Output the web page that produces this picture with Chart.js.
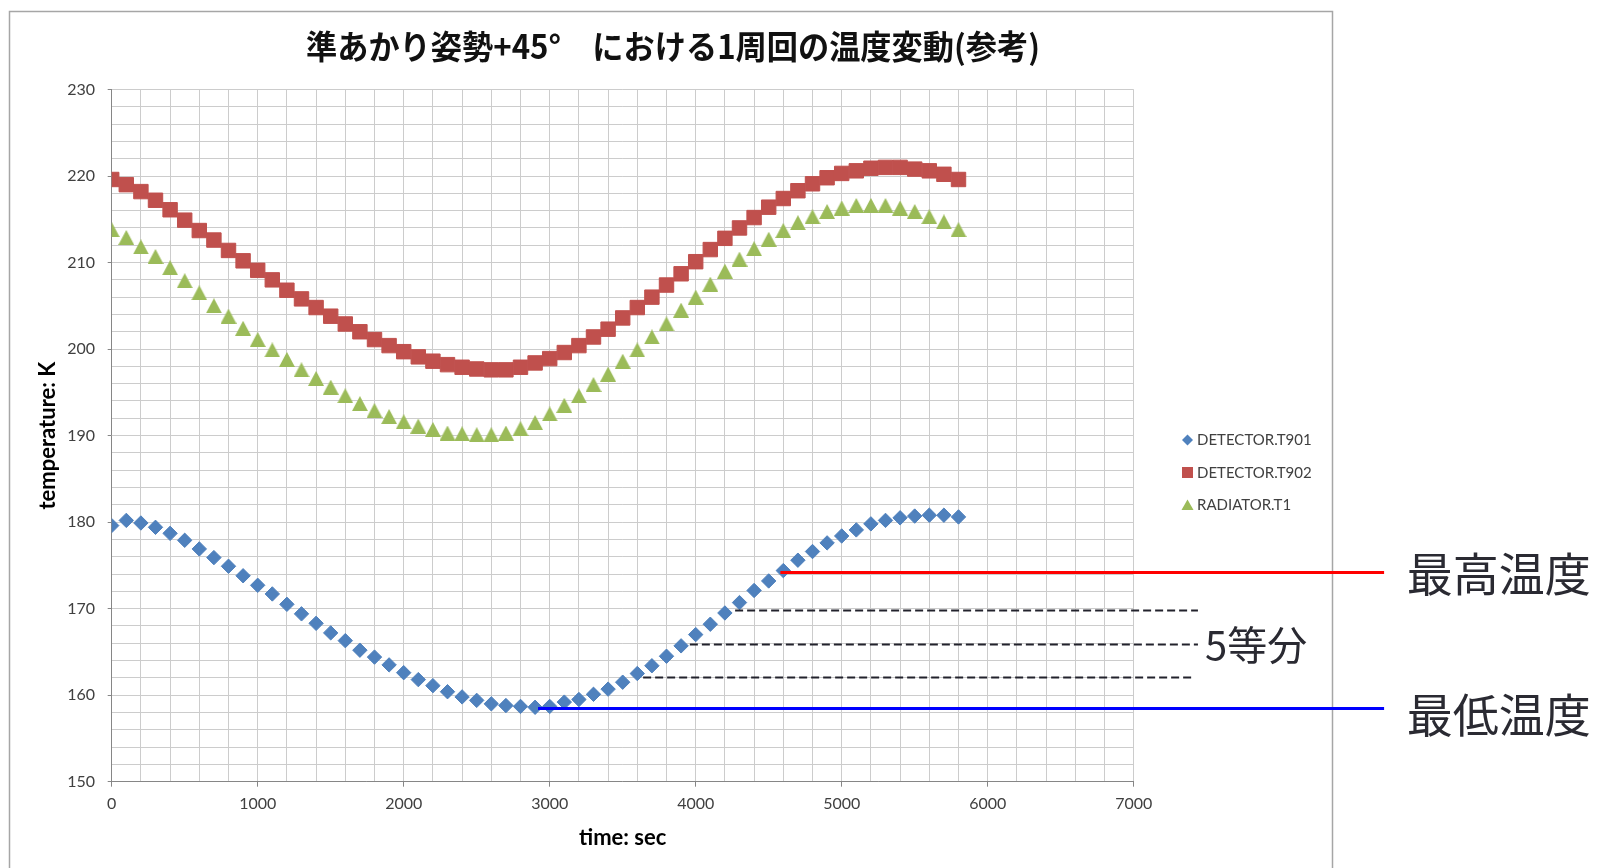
<!DOCTYPE html>
<html>
<head>
<meta charset="utf-8">
<script src="https://cdn.jsdelivr.net/npm/chart.js@4.4.1/dist/chart.umd.min.js"></script>
<style>
html,body{margin:0;padding:0;background:#ffffff;}
canvas{display:block;}
</style>
</head>
<body>
<canvas id="c" width="1598" height="868"></canvas>
<script>
// ---- data ----
const times = [0,100,200,300,400,500,600,700,800,900,1000,1100,1200,1300,1400,1500,1600,1700,1800,1900,
  2000,2100,2200,2300,2400,2500,2600,2700,2800,2900,3000,3100,3200,3300,3400,3500,3600,3700,3800,3900,
  4000,4100,4200,4300,4400,4500,4600,4700,4800,4900,5000,5100,5200,5300,5400,5500,5600,5700,5800];
const detectorT901 = [179.6,180.2,179.9,179.4,178.7,177.9,176.9,175.9,174.9,173.8,
  172.7,171.7,170.5,169.4,168.3,167.2,166.3,165.2,164.4,163.5,
  162.6,161.8,161.1,160.4,159.8,159.4,159.0,158.8,158.7,158.6,
  158.7,159.2,159.5,160.1,160.7,161.5,162.5,163.4,164.5,165.7,
  167.0,168.2,169.5,170.7,172.1,173.2,174.4,175.6,176.6,177.6,
  178.4,179.1,179.8,180.2,180.5,180.7,180.8,180.8,180.6];
const detectorT902 = [219.6,219.0,218.2,217.2,216.1,214.9,213.7,212.6,211.4,210.2,
  209.1,208.0,206.8,205.8,204.8,203.8,202.9,202.0,201.1,200.4,
  199.7,199.1,198.6,198.2,197.9,197.7,197.6,197.6,197.9,198.4,
  198.9,199.6,200.4,201.4,202.3,203.6,204.8,206.0,207.4,208.7,
  210.1,211.5,212.8,214.0,215.2,216.4,217.4,218.3,219.1,219.8,
  220.3,220.6,220.9,221.0,221.0,220.8,220.6,220.2,219.6];
const radiatorT1 = [213.8,212.9,211.8,210.7,209.4,207.9,206.5,205.0,203.8,202.4,
  201.1,199.9,198.8,197.6,196.6,195.6,194.6,193.7,192.9,192.2,
  191.6,191.1,190.7,190.3,190.2,190.1,190.1,190.3,190.8,191.5,
  192.5,193.5,194.6,195.9,197.1,198.6,199.9,201.4,202.9,204.5,
  206.0,207.5,209.0,210.4,211.6,212.7,213.7,214.6,215.3,215.9,
  216.3,216.6,216.6,216.6,216.3,215.9,215.3,214.7,213.8];
const seriesNames = ['DETECTOR.T901','DETECTOR.T902','RADIATOR.T1'];
const xTickLabels = [0,1000,2000,3000,4000,5000,6000,7000];
const yTickLabels = [150,160,170,180,190,200,210,220,230];
const chartTitle = '準あかり姿勢+45°　における1周回の温度変動(参考)';
const xAxisTitle = 'time: sec';
const yAxisTitle = 'temperature: K';
// guide lines (temperature K, from time, to time)
const guideTemps  = [174.2, 169.9, 165.9, 162.1, 158.5];
const guideStarts = [4580, 4270, 3960, 3640, 2920];
const guideEnds   = [8715, 7440, 7440, 7420, 8715];
const guideLabels = ['最高温度', '5等分', '最低温度'];

// ---- styles ----
const colors = ['#4F81BD', '#C0504D', '#9BBB59'];
function triangleImage(w, h, color) {
  const c = document.createElement('canvas');
  c.width = w; c.height = h;
  const g = c.getContext('2d');
  g.fillStyle = color;
  g.beginPath(); g.moveTo(w / 2, 0); g.lineTo(w, h); g.lineTo(0, h); g.closePath(); g.fill();
  return c;
}
const triImg = triangleImage(16, 15, colors[2]);

const toPoints = arr => times.map((t, i) => ({x: t, y: arr[i]}));

const decor = {
  id: 'decor',
  beforeDraw(chart) {
    const ctx = chart.ctx;
    ctx.save();
    ctx.fillStyle = '#ffffff';
    ctx.fillRect(0, 0, chart.width, chart.height);
    ctx.strokeStyle = '#a6a6a6';
    ctx.lineWidth = 1.5;
    ctx.beginPath();
    ctx.moveTo(9.5, 868); ctx.lineTo(9.5, 11.5); ctx.lineTo(1332.5, 11.5); ctx.lineTo(1332.5, 868);
    ctx.stroke();
    ctx.restore();
  },
  afterDraw(chart) {
    const ctx = chart.ctx;
    const xs = chart.scales.x, ys = chart.scales.y;
    // title
    ctx.save();
    ctx.font = 'bold 33px "Noto Sans CJK JP"';
    const tw = ctx.measureText(chartTitle).width;
    ctx.translate(673, 46.5);
    ctx.scale(734 / tw, 1);
    ctx.textAlign = 'center';
    ctx.textBaseline = 'middle';
    ctx.fillStyle = '#111111';
    ctx.fillText(chartTitle, 0, 0);
    ctx.restore();

    // legend
    ctx.save();
    ctx.font = '15px Lato';
    ctx.textBaseline = 'middle';
    ctx.textAlign = 'left';
    seriesNames.forEach((name, i) => {
      const y = 440 + i * 32.5, x = 1187.5;
      ctx.fillStyle = colors[i];
      ctx.beginPath();
      if (i === 0) { ctx.moveTo(x - 5.5, y); ctx.lineTo(x, y - 5.5); ctx.lineTo(x + 5.5, y); ctx.lineTo(x, y + 5.5); }
      else if (i === 1) { ctx.rect(x - 5.5, y - 5.5, 11, 11); }
      else { ctx.moveTo(x, y - 5.5); ctx.lineTo(x + 6, y + 5); ctx.lineTo(x - 6, y + 5); }
      ctx.closePath();
      ctx.fill();
      ctx.fillStyle = '#404040';
      ctx.fillText(name, 1197, y + 0.5);
    });
    ctx.restore();

    // guide lines
    ctx.save();
    guideTemps.forEach((t, i) => {
      const py = Math.round(ys.getPixelForValue(t)) + 0.5;
      ctx.beginPath();
      ctx.moveTo(xs.getPixelForValue(guideStarts[i]), py);
      ctx.lineTo(xs.getPixelForValue(guideEnds[i]), py);
      if (i === 0) { ctx.strokeStyle = '#ff0000'; ctx.lineWidth = 3; ctx.setLineDash([]); }
      else if (i === guideTemps.length - 1) { ctx.strokeStyle = '#0000ff'; ctx.lineWidth = 3; ctx.setLineDash([]); }
      else { ctx.strokeStyle = '#22222c'; ctx.lineWidth = 2.2; ctx.setLineDash([8, 4]); }
      ctx.stroke();
    });
    ctx.setLineDash([]);
    ctx.fillStyle = '#2a2a32';
    ctx.textAlign = 'left';
    ctx.textBaseline = 'middle';
    ctx.font = '46px "Noto Sans CJK JP"';
    ctx.fillText(guideLabels[0], xs.getPixelForValue(8870), ys.getPixelForValue(174.1));
    ctx.fillText(guideLabels[2], xs.getPixelForValue(8870), ys.getPixelForValue(157.8));
    ctx.font = '40px "Noto Sans CJK JP"';
    ctx.fillText(guideLabels[1], xs.getPixelForValue(7488), ys.getPixelForValue(165.8));
    ctx.restore();
  }
};

const tickFont = {family: 'Lato', size: 16};
const titleFont = {family: 'Lato', size: 22, weight: 'bold'};

new Chart(document.getElementById('c'), {
  type: 'scatter',
  data: {
    datasets: [
      {label: seriesNames[0], data: toPoints(detectorT901), pointStyle: 'rectRot', pointRadius: 7.2,
       backgroundColor: colors[0], borderColor: colors[0], borderWidth: 1, showLine: false},
      {label: seriesNames[1], data: toPoints(detectorT902), pointStyle: 'rect', pointRadius: 10.2,
       backgroundColor: colors[1], borderColor: colors[1], borderWidth: 1, showLine: false},
      {label: seriesNames[2], data: toPoints(radiatorT1), pointStyle: triImg, pointRadius: 8,
       backgroundColor: colors[2], borderColor: colors[2], borderWidth: 0, showLine: false}
    ]
  },
  options: {
    responsive: false,
    animation: false,
    events: [],
    devicePixelRatio: 1,
    layout: {padding: {left: 0, right: 464.3, top: 89.5, bottom: 0}},
    plugins: {legend: {display: false}, title: {display: false}, tooltip: {enabled: false}},
    scales: {
      x: {
        type: 'linear', min: 0, max: 7000,
        ticks: {stepSize: 200, autoSkip: false, maxRotation: 0, font: tickFont, color: '#404040', padding: 8,
          callback: v => xTickLabels.includes(v) ? String(v) : ''},
        grid: {color: '#cccccc', lineWidth: 1, tickLength: 5,
          tickColor: c => (c.tick && c.tick.value % 1000 === 0) ? '#868686' : 'rgba(0,0,0,0)'},
        border: {color: '#868686', width: 1},
        title: {display: true, text: xAxisTitle, font: titleFont, color: '#000000', padding: {top: 0, bottom: 17}},
        afterFit: s => { s.height = 86.3; }
      },
      y: {
        type: 'linear', min: 150, max: 230,
        ticks: {stepSize: 2, autoSkip: false, font: tickFont, color: '#404040', padding: 12.7,
          callback: v => yTickLabels.includes(v) ? String(v) : ''},
        grid: {color: '#cccccc', lineWidth: 1, tickLength: 4,
          tickColor: c => (c.tick && c.tick.value % 10 === 0) ? '#868686' : 'rgba(0,0,0,0)'},
        border: {color: '#868686', width: 1},
        title: {display: true, text: yAxisTitle, font: titleFont, color: '#000000', padding: {top: 35, bottom: 0}},
        afterFit: s => { s.width = 111.7; }
      }
    }
  },
  plugins: [decor]
});
</script>
</body>
</html>
